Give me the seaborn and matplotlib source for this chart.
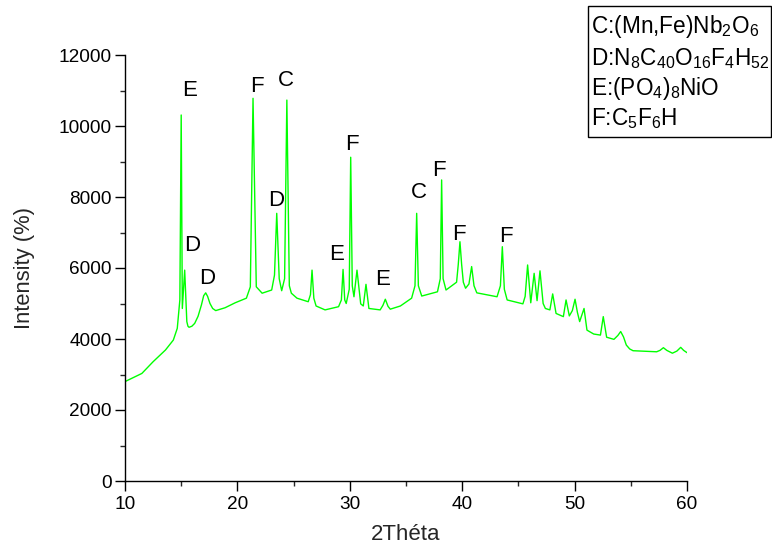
import matplotlib
matplotlib.use("Agg")
import matplotlib.pyplot as plt
from matplotlib.patches import Rectangle
from matplotlib.ticker import MultipleLocator
import seaborn as sns
import pandas as pd

# ---- data ----
two_theta = [10.0, 11.5, 12.5, 13.6, 14.3, 14.65, 14.88, 15.0, 15.1, 15.31, 15.5, 15.6,
             15.7, 15.95, 16.2, 16.5, 16.8, 17.0, 17.18, 17.35, 17.56, 17.8, 18.07, 18.9,
             19.8, 20.8, 21.15, 21.39, 21.68, 22.2,
             23.05, 23.3, 23.5, 23.72, 23.94, 24.2, 24.4, 24.62, 24.8, 25.3, 26.3, 26.5,
             26.64, 26.8, 27.0, 27.8, 29.0, 29.25, 29.4, 29.55, 29.68, 29.95, 30.08, 30.22,
             30.37, 30.64, 30.97, 31.2, 31.44, 31.7, 32.7, 32.95, 33.16, 33.4, 33.6, 34.5,
             35.5, 35.8, 35.95, 36.1, 36.4, 37.8, 38.05, 38.17, 38.3, 38.56, 39.5, 39.65,
             39.8, 39.95, 40.1, 40.3, 40.6, 40.84, 41.05, 41.3, 43.1, 43.4, 43.57, 43.75,
             44.0, 45.4, 45.6, 45.82, 46.1, 46.4, 46.66, 46.92, 47.2, 47.4, 47.8, 48.05,
             48.35, 49.0, 49.24, 49.53, 49.8, 50.04, 50.25, 50.45, 50.84, 51.1, 51.7, 52.3,
             52.55, 52.85, 53.5, 53.85, 54.1, 54.35, 54.6, 54.9, 55.2, 56.5, 57.3, 57.6,
             57.9, 58.2, 58.7, 59.1, 59.44, 59.7, 60.0]
intensity = [2800, 3030, 3360, 3690, 3970, 4300, 5100, 10310, 4860, 5940, 4490, 4360,
             4330, 4360, 4440, 4640, 4960, 5220, 5300, 5200, 5000, 4860, 4800, 4880,
             5020, 5150, 5470, 10780, 5470, 5290,
             5380, 5800, 7540, 5700, 5360, 5700, 10730, 5500, 5290, 5150, 5050, 5250,
             5940, 5150, 4930, 4820, 4910, 5100, 5960, 5100, 5000, 5400, 9120, 5500,
             5190, 5940, 4990, 4930, 5540, 4860, 4820, 4950, 5120, 4920, 4840, 4930,
             5150, 5500, 7540, 5500, 5210, 5330, 5700, 8480, 5700, 5380, 5600, 6100,
             6740, 6100, 5600, 5430, 5550, 6040, 5500, 5300, 5190, 5500, 6600, 5400,
             5100, 4990, 5200, 6085, 5020, 5850, 5080, 5920, 5000, 4860, 4820, 5270,
             4720, 4630, 5100, 4650, 4800, 5120, 4750, 4490, 4860, 4250, 4140, 4110,
             4630, 4050, 3990, 4100, 4210, 4060, 3830, 3720, 3670, 3650, 3640, 3680,
             3755, 3680, 3600, 3660, 3765, 3680, 3615]

peak_labels = ["E", "D", "D", "F", "D", "C", "E", "F", "E", "C", "F", "F", "F"]
label_x = [15.7, 16.0, 17.3, 21.77, 23.43, 24.32, 28.83, 30.22, 32.9, 36.18, 37.96, 39.72, 43.87]
label_y = [10990, 6630, 5710, 11100, 7900, 11270, 6370, 9485, 5690, 8120, 8760, 6930, 6880]

legend_lines = [r"C:(Mn,Fe)Nb$_2$O$_6$",
                r"D:N$_8$C$_{40}$O$_{16}$F$_4$H$_{52}$",
                r"E:(PO$_4$)$_8$NiO",
                r"F:C$_5$F$_6$H"]

x_ticks = [10, 20, 30, 40, 50, 60]
y_ticks = [0, 2000, 4000, 6000, 8000, 10000, 12000]

# ---- style ----
sns.set_theme(style="ticks")
plt.rcParams["font.family"] = ["Liberation Sans", "DejaVu Sans"]
plt.rcParams["mathtext.fontset"] = "custom"
plt.rcParams["mathtext.rm"] = "Liberation Sans"
plt.rcParams["mathtext.it"] = "Liberation Sans"
plt.rcParams["mathtext.default"] = "regular"

df = pd.DataFrame({"2Théta": two_theta, "Intensity": intensity})

fig = plt.figure(figsize=(7.72, 5.48), dpi=100)
ax = fig.add_axes([125 / 772, 1 - 481 / 548, 562 / 772, 426 / 548])

sns.lineplot(data=df, x="2Théta", y="Intensity", ax=ax, color="#00ff00",
             linewidth=1.0, sort=False, estimator=None)

ax.set_xlim(10, 60)
ax.set_ylim(0, 12000)
ax.set_xticks(x_ticks)
ax.set_yticks(y_ticks)
ax.xaxis.set_minor_locator(MultipleLocator(5))
ax.yaxis.set_minor_locator(MultipleLocator(1000))
ax.tick_params(axis="both", which="major", direction="out", length=7, width=1,
               labelsize=13.7, colors="black")
ax.tick_params(axis="both", which="minor", direction="out", length=3.5, width=1)
ax.tick_params(axis="y", which="major", pad=2.5)
ax.tick_params(axis="x", which="major", pad=4)
for s in ["top", "right"]:
    ax.spines[s].set_visible(False)
for s in ["left", "bottom"]:
    ax.spines[s].set_color("black")
    ax.spines[s].set_linewidth(1.0)

ax.set_xlabel("2Théta", fontsize=16)
ax.set_ylabel("Intensity (%)", fontsize=15.8)
ax.xaxis.set_label_coords(0.5, -0.1)
ax.yaxis.set_label_coords(-0.160, 0.5)

for lab, lx, ly in zip(peak_labels, label_x, label_y):
    ax.text(lx, ly, lab, fontsize=16, ha="center", va="center", color="black",
            clip_on=False)

# legend box
fig.patches.append(Rectangle((588 / 772, 1 - 137 / 548), 183 / 772, 131 / 548,
                             transform=fig.transFigure, fill=False,
                             edgecolor="black", linewidth=1.0))
baselines = [33, 65, 95, 125]
for txt, b in zip(legend_lines, baselines):
    fig.text(591 / 772, 1 - b / 548, txt, fontsize=16.3, ha="left", va="baseline",
             color="black")

fig.savefig("out.png", dpi=100)
